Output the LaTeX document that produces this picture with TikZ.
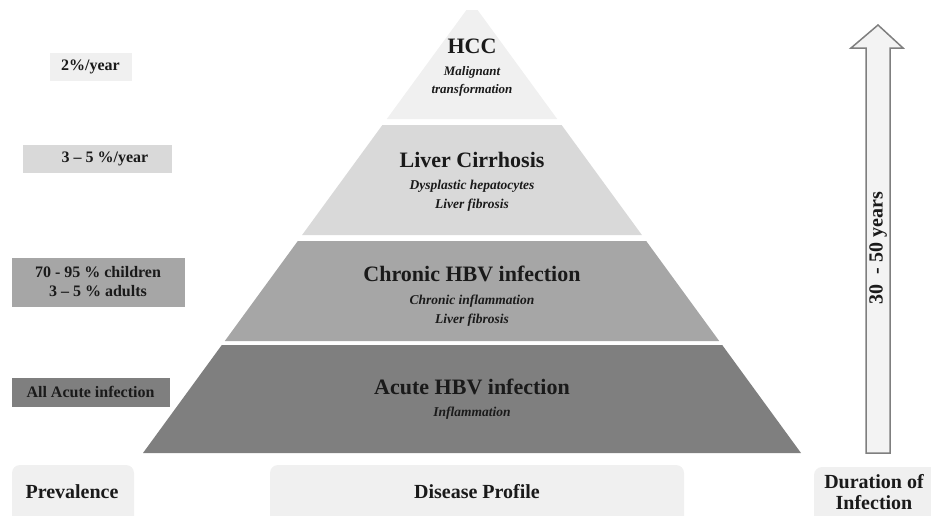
\documentclass[tikz,border=0pt]{standalone}
\usepackage{fontspec}
\setmainfont{Liberation Serif}
\definecolor{tierA}{HTML}{F0F0F0}
\definecolor{tierB}{HTML}{D9D9D9}
\definecolor{tierC}{HTML}{A6A6A6}
\definecolor{tierD}{HTML}{7F7F7F}
\definecolor{footfill}{HTML}{F0F0F0}
\definecolor{arrowedge}{HTML}{7F7F7F}
\definecolor{ink}{HTML}{1A1A1A}
\begin{document}
\begin{tikzpicture}[x=1pt,y=-1pt,
  title/.style={font=\fontsize{22}{24}\selectfont\bfseries, text=ink, inner sep=0pt},
  sub/.style={font=\fontsize{13.5}{19}\selectfont\bfseries\itshape, text=ink, align=center, inner sep=0pt},
  ratebox/.style={draw=white, line width=0.6pt, font=\fontsize{16}{19}\selectfont\bfseries, text=ink, align=center, inner sep=0pt},
  foottext/.style={font=\fontsize{20}{21}\selectfont\bfseries, text=ink, align=center, inner sep=0pt}]
\clip (0,0) rectangle (931,515);

% pyramid tiers
\fill[tierA] (466.4,10) -- (477.6,10) -- (557.2,119) -- (386.8,119) -- cycle;
\fill[tierB] (382.4,125) -- (561.6,125) -- (641.9,235) -- (302.1,235) -- cycle;
\fill[tierC] (297.8,241) -- (646.2,241) -- (719.2,341) -- (224.8,341) -- cycle;
\fill[tierD] (221.8,345) -- (722.2,345) -- (801,453) -- (143,453) -- cycle;

% tier labels
\node[title] (hcc) at (472,46) {HCC};
\node[sub, font=\fontsize{13}{18}\selectfont\bfseries\itshape] (hccsub) at (472,81) {Malignant\\transformation};
\node[title] (lc) at (472,160) {Liver Cirrhosis};
\node[sub] (lcsub) at (472,196) {Dysplastic hepatocytes\\Liver fibrosis};
\node[title] (chb) at (472,274) {Chronic HBV infection};
\node[sub] (chbsub) at (472,311) {Chronic inflammation\\Liver fibrosis};
\node[title] (ahb) at (472,387) {Acute HBV infection};
\node[sub] (ahbsub) at (472,413) {Inflammation};

% prevalence boxes
\node[ratebox, fill=tierA, minimum width=83pt, minimum height=29pt] (p1) at (90.5,66.5) {2\%/year};
\node[ratebox, fill=tierB, minimum width=150pt, minimum height=29pt] (p2) at (97,158.5) {\hspace*{16pt}3 – 5 \%/year};
\node[ratebox, fill=tierC, minimum width=174pt, minimum height=50pt] (p3) at (98,282) {70 - 95 \% children\\3 – 5 \% adults};
\node[ratebox, fill=tierD, minimum width=159pt, minimum height=30pt] (p4) at (90.5,392) {All Acute infection};

% duration arrow
\draw[fill=tierA!80!white, draw=arrowedge, line width=1.5pt, line join=miter]
  (878,25) -- (903,48) -- (890,48) -- (890,453) -- (866,453) -- (866,48) -- (851,48) -- cycle;
\node[font=\fontsize{20}{22}\selectfont\bfseries, text=ink, rotate=90, inner sep=0pt] (dur) at (878,248) {30\ \ - 50 years};

% footer captions
\fill[footfill, rounded corners=8pt] (12,465) rectangle (134,530);
\fill[footfill, rounded corners=8pt] (270,465) rectangle (684,530);
\fill[footfill, rounded corners=8pt] (814,467) rectangle (945,530);
\node[foottext] (prev) at (72,492) {Prevalence};
\node[foottext] (prof) at (477,492) {Disease Profile};
\node[foottext] (time) at (874,492) {Duration of\\Infection};
\end{tikzpicture}
\end{document}
